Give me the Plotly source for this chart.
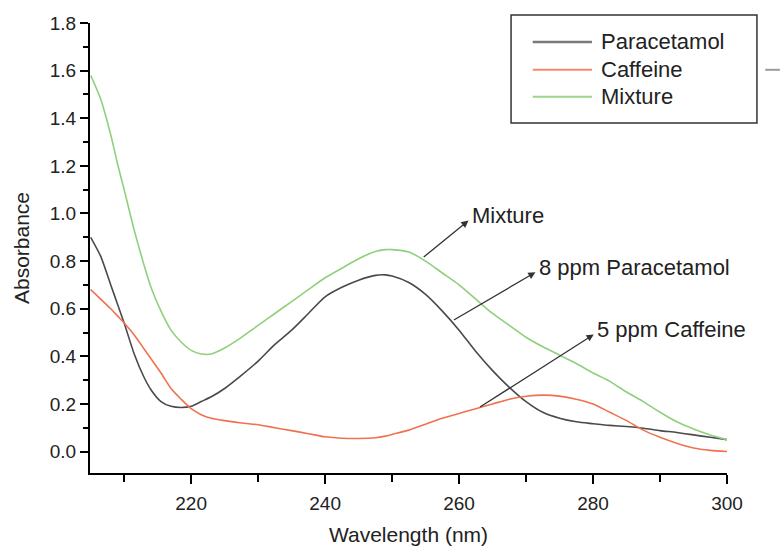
import plotly.graph_objects as go

wavelength = [205, 206.5, 208, 209, 210, 211.5, 213, 214, 215.5, 217, 218.5, 220, 221.5, 223, 225,
              227.5, 230, 232.5, 235, 237.5, 240, 242.5, 245, 247.5, 249, 250, 252.5, 255, 257.5, 260,
              262.5, 265, 267.5, 270, 272.5, 275, 277.5, 280, 282.5, 285, 287.5, 290, 292.5, 295, 297.5, 300]

paracetamol = [0.90, 0.82, 0.70, 0.62, 0.54, 0.41, 0.31, 0.26, 0.21, 0.19, 0.185, 0.19, 0.21, 0.23, 0.265,
               0.32, 0.38, 0.45, 0.51, 0.58, 0.65, 0.69, 0.72, 0.74, 0.742, 0.737, 0.71, 0.66, 0.59, 0.51,
               0.42, 0.34, 0.27, 0.21, 0.165, 0.14, 0.125, 0.117, 0.11, 0.105, 0.098, 0.088, 0.08, 0.07, 0.06, 0.05]

caffeine = [0.68, 0.64, 0.60, 0.57, 0.54, 0.49, 0.43, 0.39, 0.33, 0.265, 0.22, 0.18, 0.155, 0.14, 0.13,
            0.12, 0.113, 0.10, 0.088, 0.075, 0.062, 0.056, 0.055, 0.058, 0.065, 0.072, 0.09, 0.115, 0.14, 0.16,
            0.18, 0.20, 0.22, 0.232, 0.237, 0.233, 0.22, 0.20, 0.165, 0.13, 0.09, 0.06, 0.035, 0.015, 0.005, 0.0]

mixture = [1.58, 1.48, 1.33, 1.21, 1.10, 0.93, 0.78, 0.69, 0.59, 0.51, 0.46, 0.425, 0.41, 0.41, 0.435,
           0.48, 0.53, 0.58, 0.63, 0.68, 0.73, 0.77, 0.81, 0.84, 0.848, 0.848, 0.838, 0.80, 0.75, 0.70,
           0.64, 0.58, 0.53, 0.48, 0.44, 0.405, 0.37, 0.33, 0.295, 0.25, 0.21, 0.165, 0.125, 0.095, 0.07, 0.05]

series_names = ["Paracetamol", "Caffeine", "Mixture"]
series_colors = ["#4a4a4a", "#f0714f", "#8fd07c"]
legend_colors = ["#7a7a7a", "#f4896a", "#9bd68a"]

# annotation arrows: (label, tail x, tail y, head x, head y)
callout_labels = ["Mixture", "8 ppm Paracetamol", "5 ppm Caffeine"]
callout_tail = [(254.5, 0.812), (259.0, 0.549), (262.9, 0.183)]
callout_head = [(261.4, 0.97), (271.4, 0.753), (280.1, 0.492)]

FONT = "Liberation Sans, Arial, sans-serif"
TXT = "#222222"

fig = go.Figure()
for name, ys, col in zip(series_names, [paracetamol, caffeine, mixture], series_colors):
    fig.add_trace(go.Scatter(x=wavelength, y=ys, mode="lines", name=name,
                             line=dict(color=col, width=1.6, shape="spline", smoothing=0.7),
                             showlegend=False))

annotations = []
for lab, (tx, ty), (hx, hy) in zip(callout_labels, callout_tail, callout_head):
    annotations.append(dict(x=hx, y=hy, ax=tx, ay=ty, xref="x", yref="y", axref="x", ayref="y",
                            text="", showarrow=True, arrowhead=2, arrowsize=1.1, arrowwidth=1.3,
                            arrowcolor="#333333"))
    annotations.append(dict(x=hx + 0.2, y=hy + 0.02, xref="x", yref="y", text=lab, showarrow=False,
                            xanchor="left", yanchor="middle",
                            font=dict(family=FONT, size=22, color=TXT)))

# manual legend box
shapes = [dict(type="rect", xref="paper", yref="paper", x0=0.661, x1=1.047, y0=0.778, y1=1.018,
               line=dict(color="#333333", width=1.5), fillcolor="white")]
row_y = [0.958, 0.896, 0.836]
for name, col, yy in zip(series_names, legend_colors, row_y):
    shapes.append(dict(type="line", xref="paper", yref="paper", x0=0.695, x1=0.788, y0=yy, y1=yy,
                       line=dict(color=col, width=2.5 if name == "Paracetamol" else 2)))
    annotations.append(dict(x=0.799, y=yy, xref="paper", yref="paper", text=name, showarrow=False,
                            xanchor="left", yanchor="middle",
                            font=dict(family=FONT, size=22, color=TXT)))
shapes.append(dict(type="line", xref="paper", yref="paper", x0=1.06, x1=1.083, y0=0.896, y1=0.896,
                   line=dict(color="#9a9a9a", width=2)))

fig.update_layout(
    width=783, height=546,
    margin=dict(l=90, r=56, t=23, b=73),
    paper_bgcolor="white", plot_bgcolor="white",
    font=dict(family=FONT, color=TXT),
    shapes=shapes, annotations=annotations,
    xaxis=dict(range=[204.9, 300], tick0=200, dtick=20, ticks="outside", ticklen=9, tickwidth=2,
               tickcolor="black", showline=True, linewidth=2, linecolor="black", showgrid=False,
               zeroline=False, tickfont=dict(size=19, color=TXT), automargin=False, ticklabelstandoff=3,
               minor=dict(dtick=10, tick0=200, ticks="outside", ticklen=7, tickwidth=2, tickcolor="black"),
               title=dict(text="Wavelength (nm)", font=dict(size=21, color=TXT), standoff=19)),
    yaxis=dict(range=[-0.09, 1.8], tick0=0, dtick=0.2, tickformat=".1f", ticks="outside", ticklen=8,
               tickwidth=2, tickcolor="black", showline=True, linewidth=2, linecolor="black",
               showgrid=False, zeroline=False, tickfont=dict(size=19, color=TXT), automargin=False,
               minor=dict(dtick=0.1, tick0=0, ticks="outside", ticklen=5, tickwidth=2, tickcolor="black"),
               title=dict(text="Absorbance", font=dict(size=21, color=TXT), standoff=14)),
)

fig.write_html("out.html")
